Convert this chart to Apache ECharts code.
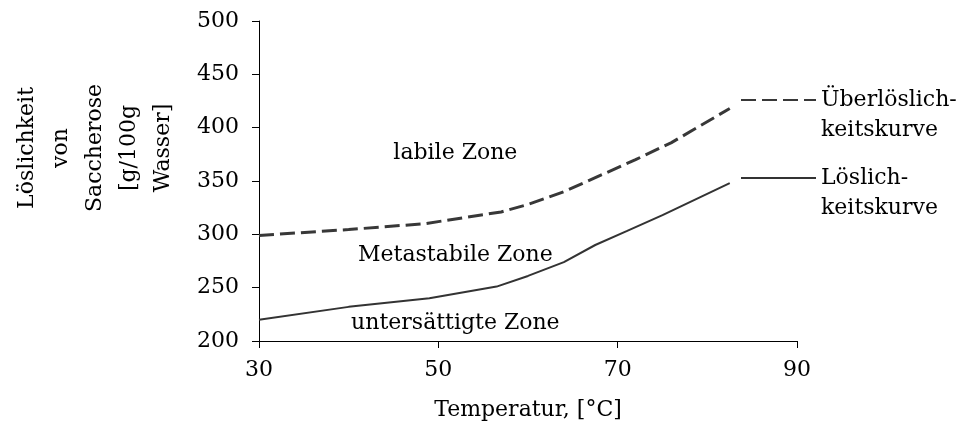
<!DOCTYPE html>
<html>
<head>
<meta charset="utf-8">
<script src="https://cdn.jsdelivr.net/npm/echarts@6/dist/echarts.min.js"></script>
<style>
  html, body { margin: 0; padding: 0; background: #fff; }
  #main { width: 962px; height: 441px; }
</style>
</head>
<body>
<div id="main"></div>
<script>
// Überlöslichkeitskurve (gestrichelt) [Temperatur, Löslichkeit]
var ueberData = [[30, 299], [40, 304.5], [48.5, 310], [57, 321], [60, 328], [64, 340], [68, 355], [72, 370], [76, 386], [82.5, 418]];
// Löslichkeitskurve (durchgezogen)
var loesData = [[30, 220], [40, 232], [49, 240], [56.5, 251], [60, 261], [64, 274], [67.5, 290], [71, 303], [75, 318], [82.5, 348]];
// Zonenbeschriftungen
var zoneLabels = [
    { name: 'labile Zone', value: [51.9, 376] },
    { name: 'Metastabile Zone', value: [51.9, 280.5] },
    { name: 'untersättigte Zone', value: [51.9, 217] }
];
var seriesNames = ['Überlöslichkeitskurve', 'Löslichkeitskurve'];
var legendText = {
    'Überlöslichkeitskurve': '\nÜberlöslich-\nkeitskurve',
    'Löslichkeitskurve': '\nLöslich-\nkeitskurve'
};
var yTitle = 'Löslichkeit\nvon\nSaccherose\n[g/100g\nWasser]';

var font = 'DejaVu Serif';
var fs = 22;
var myCharts = echarts.init(document.getElementById('main'));

var option = {
    animation: false,
    grid: {
        left: 259,
        right: 165,
        top: 21,
        bottom: 100
    },
    xAxis: {
        type: 'value',
        min: 30,
        max: 90,
        interval: 20,
        name: 'Temperatur, [°C]',
        nameLocation: 'middle',
        nameGap: 58,
        nameTextStyle: { fontFamily: font, fontSize: fs, color: '#000' },
        axisLine: { show: true, lineStyle: { color: '#000', width: 1 } },
        axisTick: { show: true, length: 7, lineStyle: { color: '#000' } },
        axisLabel: { fontFamily: font, fontSize: fs, color: '#000', margin: 18 },
        splitLine: { show: false }
    },
    yAxis: {
        type: 'value',
        min: 200,
        max: 500,
        interval: 50,
        axisLine: { show: true, lineStyle: { color: '#000', width: 1 } },
        axisTick: { show: true, length: 7, lineStyle: { color: '#000' } },
        axisLabel: { fontFamily: font, fontSize: fs, color: '#000', margin: 20 },
        splitLine: { show: false }
    },
    legend: {
        orient: 'vertical',
        left: 740,
        top: 55,
        padding: 0,
        itemWidth: 75,
        itemHeight: 1,
        itemGap: -12,
        data: seriesNames,
        itemStyle: { color: 'rgba(0,0,0,0)', borderColor: 'rgba(0,0,0,0)', borderWidth: 0 },
        formatter: function (name) {
            return legendText[name];
        },
        textStyle: {
            fontFamily: font,
            fontSize: fs,
            color: '#000',
            lineHeight: 30
        }
    },
    graphic: [{
        type: 'text',
        x: 95,
        y: 148,
        rotation: Math.PI / 2,
        style: {
            text: yTitle,
            fontFamily: font,
            fontSize: fs,
            fill: '#000',
            align: 'center',
            verticalAlign: 'middle',
            lineHeight: 34
        }
    }],
    series: [{
        name: seriesNames[0],
        type: 'line',
        symbol: 'none',
        data: ueberData,
        lineStyle: { color: '#383838', width: 3, type: [15, 6] },
        itemStyle: { color: '#383838' }
    }, {
        name: seriesNames[1],
        type: 'line',
        symbol: 'none',
        data: loesData,
        lineStyle: { color: '#333', width: 2, type: 'solid' },
        itemStyle: { color: '#333' }
    }, {
        name: 'Zonen',
        type: 'scatter',
        symbolSize: 0,
        silent: true,
        data: zoneLabels,
        itemStyle: { opacity: 1 },
        label: {
            show: true,
            position: 'inside',
            fontFamily: font,
            fontSize: fs,
            color: '#000',
            opacity: 1,
            formatter: function (a) {
                return a.name;
            }
        }
    }]
};

myCharts.setOption(option);
</script>
</body>
</html>
